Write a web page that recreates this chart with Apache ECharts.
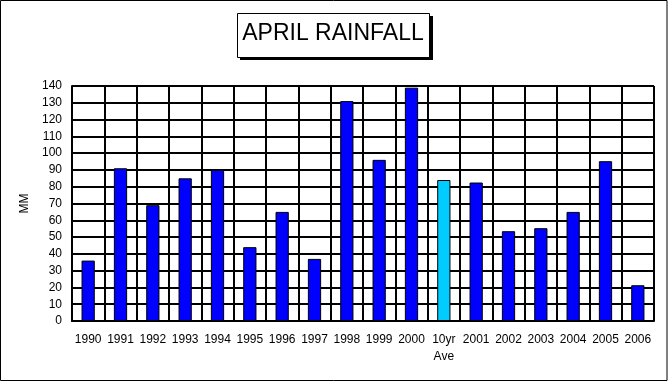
<!DOCTYPE html>
<html>
<head>
<meta charset="utf-8">
<script src="https://cdn.jsdelivr.net/npm/echarts@6/dist/echarts.min.js"></script>
<style>
html,body{margin:0;padding:0;background:#fff;}
#c{width:668px;height:382px;}
</style>
</head>
<body>
<div id="c"></div>
<script>
var categories = ['1990','1991','1992','1993','1994','1995','1996','1997','1998','1999','2000','10yr\nAve','2001','2002','2003','2004','2005','2006'];
var rainfall = [36, 91, 69, 85, 90, 44, 65, 37, 131, 96, 139, 84, 82.5, 53.5, 55.3, 65, 95.2, 21.3];
var yTicks = {min: 0, max: 140, interval: 10};
var titleText = 'APRIL RAINFALL';
var yName = 'MM';

var chart = echarts.init(document.getElementById('c'), null, {renderer: 'canvas'});
var font = '"Liberation Sans", Arial, sans-serif';
var option = {
  animation: false,
  backgroundColor: '#ffffff',
  graphic: [
    {type: 'rect', shape: {x: 0.5, y: 0.5, width: 666.5, height: 380}, style: {fill: 'none', stroke: '#000', lineWidth: 1}, silent: true},
    {type: 'rect', shape: {x: 240, y: 16, width: 193, height: 44}, style: {fill: '#000'}, silent: true},
    {type: 'rect', shape: {x: 237.5, y: 13.5, width: 192, height: 44}, style: {fill: '#fff', stroke: '#000', lineWidth: 1}, silent: true},
    {type: 'text', x: 333, y: 34, style: {text: titleText, font: '23px ' + font, fill: '#000', align: 'center', verticalAlign: 'middle'}, silent: true}
  ],
  grid: {left: 72, right: 14, top: 86, bottom: 61, containLabel: false},
  xAxis: {
    type: 'category',
    data: categories,
    boundaryGap: true,
    axisLine: {lineStyle: {color: '#000', width: 2}},
    axisTick: {show: true, alignWithLabel: true, inside: true, length: 3, lineStyle: {color: '#000', width: 1}},
    splitLine: {show: true, lineStyle: {color: '#000', width: 2}},
    axisLabel: {color: '#000', fontFamily: font, fontSize: 12, margin: 10, lineHeight: 17, interval: 0}
  },
  yAxis: {
    type: 'value',
    min: yTicks.min, max: yTicks.max, interval: yTicks.interval,
    name: yName,
    nameLocation: 'middle',
    nameGap: 38,
    nameRotate: 90,
    nameTextStyle: {color: '#000', fontFamily: font, fontSize: 12},
    axisLine: {show: true, lineStyle: {color: '#000', width: 2}},
    axisTick: {show: false},
    splitLine: {show: true, lineStyle: {color: '#000', width: 2}},
    axisLabel: {color: '#000', fontFamily: font, fontSize: 12, margin: 10}
  },
  series: [{
    type: 'bar',
    barWidth: '41%',
    data: rainfall.map(function (v, i) {
      return {
        value: v,
        itemStyle: {color: categories[i].indexOf('Ave') >= 0 ? '#00CCFF' : '#0000FF', borderColor: '#000', borderWidth: 1}
      };
    }),
    z: 3
  }]
};
chart.setOption(option);
</script>
</body>
</html>
